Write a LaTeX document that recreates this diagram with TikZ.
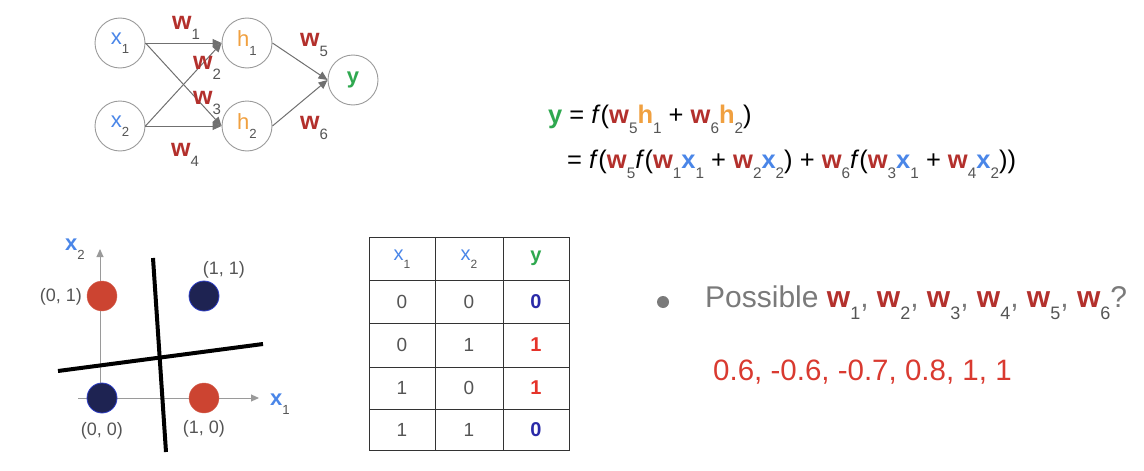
\documentclass[tikz,border=0pt]{standalone}
\usepackage{fontspec}
\setmainfont{Liberation Sans}
\usepackage{graphicx}
\usetikzlibrary{arrows.meta}
\definecolor{wred}{HTML}{B3302C}
\definecolor{horange}{HTML}{F0A040}
\definecolor{xblue}{HTML}{4A86E8}
\definecolor{ygreen}{HTML}{2FA84F}
\definecolor{sgray}{HTML}{555555}
\definecolor{tgray}{HTML}{7A7A7A}
\definecolor{ngray}{HTML}{9A9A9A}
\definecolor{agray}{HTML}{707070}
\definecolor{ansred}{HTML}{D93A30}
\definecolor{dotred}{HTML}{CC4431}
\definecolor{dotnavy}{HTML}{1E2352}
\definecolor{dotedge}{HTML}{3040C8}
\definecolor{zblue}{HTML}{2A2AA8}
\definecolor{ored}{HTML}{E5332A}
\newcommand\lowsub[1]{\raisebox{-0.42em}{\scalebox{0.6}{\color{sgray}#1}}}
\newcommand\W[1]{{\color{wred}\bfseries w}\lowsub{#1}}
\newcommand\X[1]{{\color{xblue}\bfseries x}\lowsub{#1}}
\newcommand\XN[1]{{\color{xblue}x}\lowsub{#1}}
\newcommand\HH[1]{{\color{horange}\bfseries h}\lowsub{#1}}
\newcommand\FF{\textit{f}}
\tikzset{
  neuron/.style={circle,draw=ngray,line width=0.9pt,minimum size=50pt,inner sep=0pt,font=\fontsize{22}{24}\selectfont},
  conn/.style={draw=agray,line width=1pt,-{Triangle[length=9pt,width=8pt]}},
  wlab/.style={font=\fontsize{25}{28}\selectfont,inner sep=0pt,anchor=base west},
  eq/.style={font=\fontsize{25.5}{30}\selectfont,inner sep=0pt,anchor=base west},
  axis/.style={draw=ngray,line width=1pt,-{Triangle[length=8pt,width=7pt]}},
  sep/.style={draw=black,line width=4pt},
  ptlab/.style={font=\fontsize{18}{20}\selectfont,text=sgray,inner sep=0pt},
  reddot/.style={circle,fill=dotred,draw=dotred!80!white,minimum size=30pt,inner sep=0pt},
  navydot/.style={circle,fill=dotnavy,draw=dotedge,line width=0.8pt,minimum size=30pt,inner sep=0pt},
  grid/.style={draw=black!80,line width=1pt},
  cell/.style={font=\fontsize{19}{22}\selectfont,text=sgray,inner sep=0pt},
  hcell/.style={font=\fontsize{20}{22}\selectfont,inner sep=0pt},
}
\begin{document}
\begin{tikzpicture}[x=1pt,y=-1pt]
\useasboundingbox (0,0) rectangle (1144,471);
% network
\node[neuron] (x1) at (120,43) {\XN{1}};
\node[neuron] (x2) at (120,126) {\XN{2}};
\node[neuron] (h1) at (247,43) {{\color{horange}h}\lowsub{1}};
\node[neuron] (h2) at (247,126) {{\color{horange}h}\lowsub{2}};
\node[neuron] (y) at (353,80) {{\color{ygreen}\bfseries y}};
\draw[conn] (x1.east) -- (h1.west);
\draw[conn] (x1.east) -- (h2.west);
\draw[conn] (x2.east) -- (h1.west);
\draw[conn] (x2.east) -- (h2.west);
\draw[conn] (h1.east) -- (y.west);
\draw[conn] (h2.east) -- (y.west);
\node[wlab] (lw1) at (172,29) {\W{1}};
\node[wlab] (lw2) at (193,69) {\W{2}};
\node[wlab] (lw3) at (193,104) {\W{3}};
\node[wlab] (lw4) at (171,156) {\W{4}};
\node[wlab] (lw5) at (300,46) {\W{5}};
\node[wlab] (lw6) at (300,129) {\W{6}};
% equation
\node[eq] (eq1) at (548,123) {{\color{ygreen}\bfseries y} = \FF(\W{5}\HH{1} + \W{6}\HH{2})};
\node[eq] (eq2) at (567,168) {= \FF(\W{5}\FF(\W{1}\X{1} + \W{2}\X{2}) + \W{6}\FF(\W{3}\X{1} + \W{4}\X{2}))};
% plot
\coordinate (ob) at (100,412);
\coordinate (ot) at (100,249);
\coordinate (ol) at (78,398);
\coordinate (or) at (259,398);
\draw[axis] (ob) -- (ot);
\draw[axis] (ol) -- (or);
\node[reddot] (p01) at (102,296) {};
\node[navydot] (p11) at (204,296) {};
\node[navydot] (p00) at (102,398) {};
\node[reddot] (p10) at (204,398) {};
\coordinate (va) at (153,258);
\coordinate (vb) at (166,452);
\coordinate (ha) at (58,371);
\coordinate (hb) at (263,344);
\draw[sep] (va) -- (vb);
\draw[sep] (ha) -- (hb);
\node[ptlab] (l01) at (61,297) {(0, 1)};
\node[ptlab] (l11) at (224,270) {(1, 1)};
\node[ptlab] (l00) at (102,431) {(0, 0)};
\node[ptlab] (l10) at (204,429) {(1, 0)};
\node[font=\fontsize{22}{24}\selectfont,inner sep=0pt] (ax2) at (75,249) {\X{2}};
\node[font=\fontsize{22}{24}\selectfont,inner sep=0pt] (ax1) at (280,404) {\X{1}};
% table
\draw[grid] (369,237) rectangle (569,450);
\draw[grid] (435,237) -- (435,450);
\draw[grid] (503,237) -- (503,450);
\foreach \yy in {280,323,367,409} \draw[grid] (369,\yy) -- (569,\yy);
\node[hcell] (t11) at (402,259) {\XN{1}};
\node[hcell] (t12) at (469,259) {\XN{2}};
\node[hcell] (t13) at (536,258) {{\color{ygreen}\bfseries y}};
\node[cell] (t21) at (402,302) {0};
\node[cell] (t22) at (469,302) {0};
\node[cell,text=zblue,font=\fontsize{20}{22}\selectfont\bfseries] (t23) at (536,302) {0};
\node[cell] (t31) at (402,345) {0};
\node[cell] (t32) at (469,345) {1};
\node[cell,text=ored,font=\fontsize{20}{22}\selectfont\bfseries] (t33) at (536,345) {1};
\node[cell] (t41) at (402,388) {1};
\node[cell] (t42) at (469,388) {0};
\node[cell,text=ored,font=\fontsize{20}{22}\selectfont\bfseries] (t43) at (536,388) {1};
\node[cell] (t51) at (402,430) {1};
\node[cell] (t52) at (469,430) {1};
\node[cell,text=zblue,font=\fontsize{20}{22}\selectfont\bfseries] (t53) at (536,430) {0};
% bullet
\fill[tgray] (663,302) circle (6pt);
\node[font=\fontsize{30}{34}\selectfont,text=tgray,inner sep=0pt,anchor=base west] (poss) at (705,307) {Possible \W{1}, \W{2}, \W{3}, \W{4}, \W{5}, \W{6}?};
\node[font=\fontsize{29.5}{34}\selectfont,text=ansred,inner sep=0pt,anchor=base west] (ans) at (713,380) {0.6, -0.6, -0.7, 0.8, 1, 1};
\end{tikzpicture}
\end{document}
